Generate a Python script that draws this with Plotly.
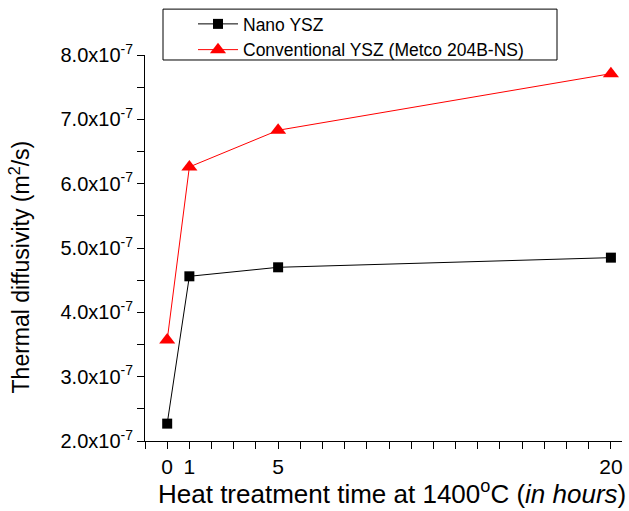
import plotly.graph_objects as go

# Data
time_h = [0, 1, 5, 20]
nano_ysz = [2.27e-7, 4.56e-7, 4.70e-7, 4.85e-7]
conv_ysz = [3.57e-7, 6.26e-7, 6.83e-7, 7.71e-7]
series_names = ["Nano YSZ", "Conventional YSZ (Metco 204B-NS)"]

x_tick_vals = [0, 1, 5, 20]
x_tick_text = ["0", "1", "5", "20"]

y_tick_vals = [2e-7, 3e-7, 4e-7, 5e-7, 6e-7, 7e-7, 8e-7]
y_tick_text = ["2.0x10<sup>-7</sup>", "3.0x10<sup>-7</sup>", "4.0x10<sup>-7</sup>",
               "5.0x10<sup>-7</sup>", "6.0x10<sup>-7</sup>", "7.0x10<sup>-7</sup>",
               "8.0x10<sup>-7</sup>"]

x_title = "Heat treatment time at 1400<sup>o</sup>C (<i>in hours</i>)"
y_title = "Thermal diffusivity (m<sup>2</sup>/s)"

font_family = "Liberation Sans, Arial, sans-serif"

W, H = 629, 511
L, R, T, B = 145, 7, 54, 70
PW = W - L - R
PH = H - T - B


def px(x_page):
    return (x_page - L) / PW


def py(y_page):
    return (H - B - y_page) / PH


fig = go.Figure()
fig.add_trace(go.Scatter(
    x=time_h, y=nano_ysz, name=series_names[0], mode="lines+markers",
    line=dict(color="black", width=1),
    marker=dict(symbol="square", size=10, color="black"),
))
fig.add_trace(go.Scatter(
    x=time_h, y=conv_ysz, name=series_names[1], mode="lines+markers",
    line=dict(color="#ff0000", width=1),
    marker=dict(symbol="triangle-up", size=14, color="#ff0000"),
))

fig.update_layout(
    width=W, height=H,
    margin=dict(l=L, r=R, t=T, b=B),
    paper_bgcolor="white", plot_bgcolor="white",
    font=dict(family=font_family, color="black", size=20),
    showlegend=True,
    legend=dict(
        x=px(193), y=py(6), xanchor="left", yanchor="top",
        bgcolor="rgba(0,0,0,0)", borderwidth=0,
        font=dict(size=17.5, family=font_family),
        tracegroupgap=0, itemwidth=40,
    ),
    shapes=[dict(type="rect", xref="paper", yref="paper",
                 x0=px(163), x1=px(557), y0=py(59), y1=py(8),
                 line=dict(color="black", width=1))],
    annotations=[
        dict(text=x_title, xref="paper", yref="paper", x=px(392), y=py(493),
             xanchor="center", yanchor="middle", showarrow=False,
             font=dict(size=26, family=font_family)),
        dict(text=y_title, xref="paper", yref="paper", x=px(20), y=py(266),
             xanchor="center", yanchor="middle", showarrow=False, textangle=-90,
             font=dict(size=23, family=font_family)),
    ],
)

fig.update_xaxes(
    range=[-1, 20.5], tickmode="array", tickvals=x_tick_vals, ticktext=x_tick_text,
    ticks="outside", ticklen=7, tickwidth=1, tickcolor="black",
    minor=dict(tick0=-1, dtick=1, ticks="outside", ticklen=7, tickwidth=1,
               tickcolor="black", showgrid=False),
    showline=True, linecolor="black", linewidth=1, showgrid=False, zeroline=False,
    tickfont=dict(size=21), automargin=False,
)
fig.update_yaxes(
    range=[2e-7, 8e-7], tickmode="array", tickvals=y_tick_vals, ticktext=y_tick_text,
    ticks="outside", ticklen=7, tickwidth=1, tickcolor="black",
    minor=dict(tick0=2e-7, dtick=0.5e-7, ticks="outside", ticklen=7, tickwidth=1,
               tickcolor="black", showgrid=False),
    showline=True, linecolor="black", linewidth=1, showgrid=False, zeroline=False,
    tickfont=dict(size=20), automargin=False,
)

fig.write_html(
    "out.html",
    config={"displayModeBar": False},
    post_script="document.body.style.margin='0';document.body.style.overflow='hidden';",
)
